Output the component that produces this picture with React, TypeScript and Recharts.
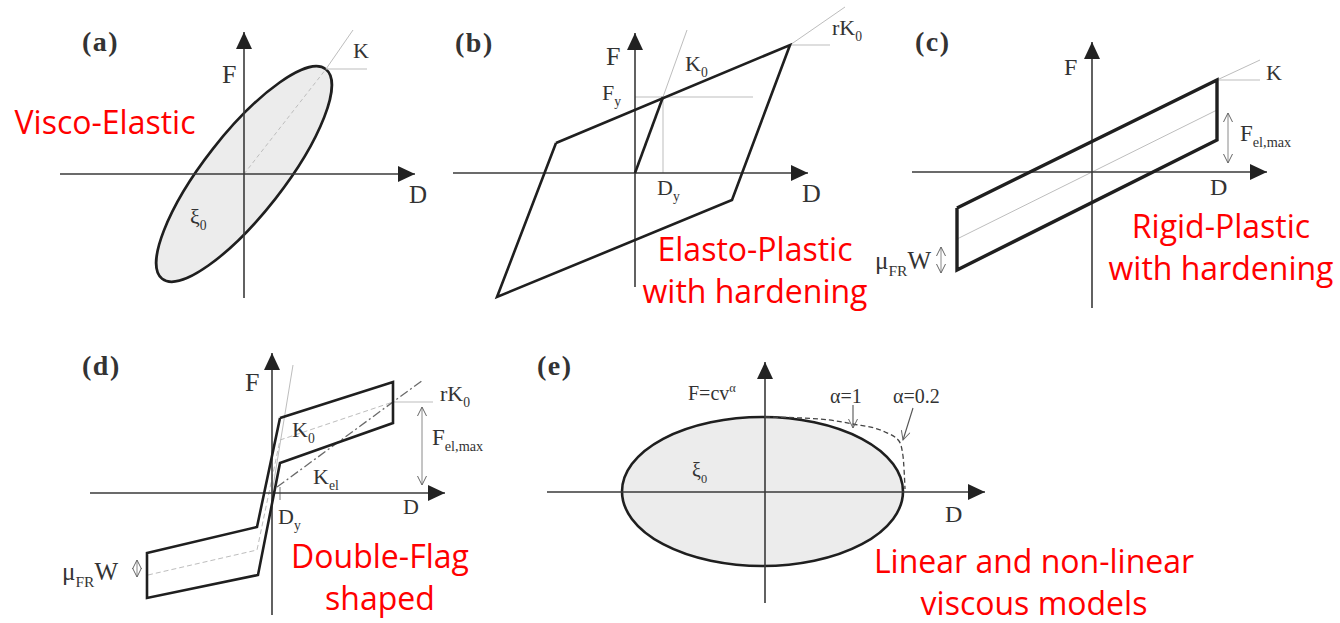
import { LineChart, Line, XAxis, YAxis, ReferenceArea } from "recharts";
import type { ReactNode } from "react";

type Pt = { x: number; y: number };

// (a) visco-elastic loop, D/F in arbitrary units
const aAxisD: Pt[] = [{ x: -18.4, y: 0 }, { x: 17.1, y: 0 }];
const aAxisF: Pt[] = [{ x: 0, y: -12.4 }, { x: 0, y: 14.2 }];
const aLoop = { a: 13.3, b: 4.0, tilt: 52 };
const aStiffInside: Pt[] = [{ x: 0, y: 0 }, { x: 8.2, y: 10.5 }];
const aStiffOutside: Pt[] = [{ x: 8.2, y: 10.5 }, { x: 10.9, y: 14.4 }];
const aPeakLevel: Pt[] = [{ x: 8.2, y: 10.5 }, { x: 12.3, y: 10.5 }];

// (b) elasto-plastic with hardening
const bAxisD: Pt[] = [{ x: -18.2, y: 0 }, { x: 17.3, y: 0 }];
const bAxisF: Pt[] = [{ x: 0, y: -11.4 }, { x: 0, y: 14.0 }];
const bLoop: Pt[] = [
  { x: -7.9, y: 3.0 },
  { x: 15.5, y: 12.8 },
  { x: 9.7, y: -2.7 },
  { x: -13.8, y: -12.4 },
  { x: -7.9, y: 3.0 },
];
const bInitial: Pt[] = [{ x: 0, y: 0 }, { x: 2.8, y: 7.6 }];
const bK0Guide: Pt[] = [{ x: 2.8, y: 7.6 }, { x: 5.2, y: 14.3 }];
const bFyGuide: Pt[] = [{ x: 0, y: 7.6 }, { x: 11.8, y: 7.6 }];
const bDyGuide: Pt[] = [{ x: 2.8, y: 7.6 }, { x: 2.8, y: 0 }];
const bRK0Guide: Pt[] = [{ x: 15.5, y: 12.8 }, { x: 21.0, y: 16.6 }];
const bRK0Level: Pt[] = [{ x: 15.5, y: 12.8 }, { x: 19.5, y: 12.8 }];

// (c) rigid-plastic with hardening
const cAxisD: Pt[] = [{ x: -18.0, y: 0 }, { x: 17.5, y: 0 }];
const cAxisF: Pt[] = [{ x: 0, y: -13.6 }, { x: 0, y: 13.0 }];
const cLoop: Pt[] = [
  { x: -13.5, y: -3.6 },
  { x: 12.5, y: 9.2 },
  { x: 12.5, y: 3.2 },
  { x: -13.5, y: -9.8 },
  { x: -13.5, y: -3.6 },
];
const cCenter: Pt[] = [{ x: -13.5, y: -6.7 }, { x: 12.5, y: 6.2 }];
const cKGuide: Pt[] = [{ x: 12.5, y: 9.2 }, { x: 16.8, y: 11.2 }];
const cKLevel: Pt[] = [{ x: 12.5, y: 9.2 }, { x: 16.8, y: 9.2 }];
const cFelSpan: Pt[] = [{ x: 13.6, y: 5.9 }, { x: 13.6, y: 0.9 }];
const cMuSpan: Pt[] = [{ x: -15.1, y: -7.5 }, { x: -15.1, y: -10.1 }];

// (d) double-flag
const dAxisD: Pt[] = [{ x: -18.2, y: 0 }, { x: 17.3, y: 0 }];
const dAxisF: Pt[] = [{ x: 0, y: -12.2 }, { x: 0, y: 14.0 }];
const dFlag: Pt[] = [
  { x: 0.8, y: 7.5 },
  { x: 12.1, y: 11.1 },
  { x: 12.1, y: 7.0 },
  { x: 0.8, y: 3.0 },
  { x: -1.4, y: -8.2 },
  { x: -12.5, y: -10.5 },
  { x: -12.5, y: -6.0 },
  { x: -1.5, y: -3.4 },
  { x: 0.8, y: 7.5 },
];
const dCenter: Pt[] = [
  { x: -12.4, y: -8.2 },
  { x: -1.5, y: -5.7 },
  { x: 0.8, y: 5.3 },
  { x: 12.1, y: 9.1 },
];
const dKel: Pt[] = [{ x: 0.5, y: 0.6 }, { x: 15.1, y: 11.3 }];
const dK0Guide: Pt[] = [{ x: 0, y: 0 }, { x: 2.1, y: 12.8 }];
const dRK0Level: Pt[] = [{ x: 12.1, y: 9.1 }, { x: 16.1, y: 9.1 }];
const dFelSpan: Pt[] = [{ x: 15.0, y: 8.6 }, { x: 15.0, y: 0.8 }];
const dMuSpan: Pt[] = [{ x: -13.5, y: -6.7 }, { x: -13.5, y: -8.4 }];
const dDyTick: Pt[] = [{ x: 0.8, y: 0.6 }, { x: 0.8, y: -0.7 }];

// (e) linear / non-linear viscous
const eAxisD: Pt[] = [{ x: -21.8, y: 0 }, { x: 22.0, y: 0 }];
const eAxisF: Pt[] = [{ x: 0, y: -11.1 }, { x: 0, y: 13.0 }];
const eLinear = { x1: -14.3, x2: 13.8, y1: -7.4, y2: 7.5 };
const eNonLinear: Pt[] = [
  { x: 0, y: 7.5 },
  { x: 5.5, y: 7.3 },
  { x: 8.8, y: 6.8 },
  { x: 12.0, y: 6.0 },
  { x: 13.4, y: 5.1 },
  { x: 13.8, y: 3.6 },
  { x: 13.92, y: 2.0 },
  { x: 14.0, y: 0.3 },
];
const eAlpha1Pointer: Pt[] = [{ x: 8.8, y: 8.7 }, { x: 8.8, y: 6.4 }];
const eAlpha02Pointer: Pt[] = [{ x: 14.8, y: 8.4 }, { x: 13.8, y: 5.2 }];

const INK = "#1f1f1f";
const AXIS = "#3a3a3a";
const GUIDE = "#bdbdbd";
const FILL = "#ececec";
const SERIF = "'Liberation Serif', 'DejaVu Serif', serif";
const RED_FONT = "'Open Sans', sans-serif";

const mainStyle = { stroke: INK, strokeWidth: 2.6 };
const axisStyle = { stroke: AXIS, strokeWidth: 1.6, markerEnd: "url(#axisHead)" };
const guideStyle = { stroke: GUIDE, strokeWidth: 1 };
const spanStyle = {
  stroke: "#8a8a8a",
  strokeWidth: 1,
  markerStart: "url(#openHead)",
  markerEnd: "url(#openHead)",
};
const pointerStyle = { stroke: "#555", strokeWidth: 1.1, markerEnd: "url(#openHead)" };

function seg(key: string, data: Pt[], style: Record<string, unknown>, type: any = "linear") {
  return (
    <Line
      key={key}
      data={data}
      dataKey="y"
      type={type}
      dot={false}
      activeDot={false}
      isAnimationActive={false}
      strokeLinejoin="miter"
      {...style}
    />
  );
}

function ellipseShape(tilt: number) {
  return (p: any) => {
    const cx = p.x + p.width / 2;
    const cy = p.y + p.height / 2;
    return (
      <ellipse
        cx={cx}
        cy={cy}
        rx={Math.abs(p.width) / 2}
        ry={Math.abs(p.height) / 2}
        fill={FILL}
        stroke={INK}
        strokeWidth={2.6}
        transform={`rotate(${-tilt} ${cx} ${cy})`}
      />
    );
  };
}

function Panel(props: {
  left: number;
  top: number;
  width: number;
  height: number;
  xDomain: [number, number];
  yDomain: [number, number];
  children: ReactNode;
}) {
  return (
    <div style={{ position: "absolute", left: props.left, top: props.top }}>
      <LineChart
        width={props.width}
        height={props.height}
        margin={{ top: 0, right: 0, bottom: 0, left: 0 }}
      >
        <XAxis type="number" dataKey="x" domain={props.xDomain} hide allowDataOverflow />
        <YAxis type="number" domain={props.yDomain} hide allowDataOverflow />
        {props.children}
      </LineChart>
    </div>
  );
}

function Sym(props: {
  x: number;
  y: number;
  size?: number;
  main: string;
  sub?: string;
  sup?: string;
  tail?: string;
  anchor?: "start" | "end";
}) {
  const s = props.size ?? 22;
  const shift = s * 0.28;
  return (
    <text x={props.x} y={props.y} fontSize={s} textAnchor={props.anchor ?? "start"}>
      {props.main}
      {props.sub && (
        <tspan dy={shift} fontSize={s * 0.62}>
          {props.sub}
        </tspan>
      )}
      {props.sup && (
        <tspan dy={-s * 0.4} fontSize={s * 0.62}>
          {props.sup}
        </tspan>
      )}
      {props.tail && <tspan dy={props.sub ? -shift : 0}>{props.tail}</tspan>}
    </text>
  );
}

function RedNote(props: { x: number; y: number; lines: string[] }) {
  return (
    <text
      x={props.x}
      y={props.y}
      fontFamily={RED_FONT}
      fontSize={32}
      fill="#ff0000"
      textAnchor="middle"
    >
      {props.lines.map((l, i) => (
        <tspan key={l} x={props.x} dy={i === 0 ? 0 : 42}>
          {l}
        </tspan>
      ))}
    </text>
  );
}

export default function App() {
  const letter = { fontSize: 28, fontWeight: "bold" as const, letterSpacing: 1.5 };
  return (
    <div
      style={{
        position: "absolute",
        left: 0,
        top: 0,
        width: 1340,
        height: 623,
        background: "#fff",
        overflow: "hidden",
      }}
    >
      <Panel left={44} top={24} width={380} height={290} xDomain={[-20, 18]} yDomain={[-14, 15]}>
        <ReferenceArea
          x1={-aLoop.a}
          x2={aLoop.a}
          y1={-aLoop.b}
          y2={aLoop.b}
          shape={ellipseShape(aLoop.tilt)}
        />
        {seg("aK1", aStiffInside, { ...guideStyle, strokeDasharray: "4 3" })}
        {seg("aK2", aStiffOutside, guideStyle)}
        {seg("aK3", aPeakLevel, guideStyle)}
        {seg("aD", aAxisD, axisStyle)}
        {seg("aF", aAxisF, axisStyle)}
      </Panel>

      <Panel left={445} top={3} width={420} height={300} xDomain={[-19, 23]} yDomain={[-13, 17]}>
        {seg("bK0", bK0Guide, guideStyle)}
        {seg("bFy", bFyGuide, guideStyle)}
        {seg("bDy", bDyGuide, guideStyle)}
        {seg("bRK", bRK0Guide, guideStyle)}
        {seg("bRL", bRK0Level, guideStyle)}
        {seg("bD", bAxisD, axisStyle)}
        {seg("bF", bAxisF, axisStyle)}
        {seg("bLoop", bLoop, mainStyle)}
        {seg("bIni", bInitial, mainStyle)}
      </Panel>

      <Panel left={902} top={32} width={380} height={290} xDomain={[-19, 19]} yDomain={[-15, 14]}>
        {seg("cC", cCenter, guideStyle)}
        {seg("cK", cKGuide, guideStyle)}
        {seg("cKL", cKLevel, guideStyle)}
        {seg("cD", cAxisD, axisStyle)}
        {seg("cF", cAxisF, axisStyle)}
        {seg("cLoop", cLoop, { stroke: INK, strokeWidth: 3.4 })}
        {seg("cFel", cFelSpan, spanStyle)}
        {seg("cMu", cMuSpan, spanStyle)}
      </Panel>

      <Panel left={82} top={343} width={400} height={280} xDomain={[-19, 21]} yDomain={[-13, 15]}>
        {seg("dK0", dK0Guide, guideStyle)}
        {seg("dRL", dRK0Level, guideStyle)}
        {seg("dC", dCenter, { ...guideStyle, strokeDasharray: "5 3" })}
        {seg("dKel", dKel, { stroke: "#6a6a6a", strokeWidth: 1.3, strokeDasharray: "9 3 2 3" })}
        {seg("dTick", dDyTick, { stroke: "#777", strokeWidth: 1 })}
        {seg("dD", dAxisD, axisStyle)}
        {seg("dF", dAxisF, axisStyle)}
        {seg("dFlag", dFlag, mainStyle)}
        {seg("dFel", dFelSpan, spanStyle)}
        {seg("dMu", dMuSpan, spanStyle)}
      </Panel>

      <Panel left={535} top={352} width={460} height={260} xDomain={[-23, 23]} yDomain={[-12, 14]}>
        <ReferenceArea
          x1={eLinear.x1}
          x2={eLinear.x2}
          y1={eLinear.y1}
          y2={eLinear.y2}
          shape={ellipseShape(0)}
        />
        {seg("eD", eAxisD, axisStyle)}
        {seg("eF", eAxisF, axisStyle)}
        {seg("eNL", eNonLinear, { stroke: "#444", strokeWidth: 1.3, strokeDasharray: "5 3" }, "monotone")}
        {seg("eP1", eAlpha1Pointer, pointerStyle)}
        {seg("eP2", eAlpha02Pointer, pointerStyle)}
      </Panel>

      <svg
        width={1340}
        height={623}
        style={{ position: "absolute", left: 0, top: 0, pointerEvents: "none" }}
      >
        <defs>
          <marker
            id="axisHead"
            markerUnits="userSpaceOnUse"
            markerWidth={18}
            markerHeight={16}
            refX={17}
            refY={8}
            orient="auto"
          >
            <path d="M0,0 L17,8 L0,16 Z" fill="#222" />
          </marker>
          <marker
            id="openHead"
            markerUnits="userSpaceOnUse"
            markerWidth={12}
            markerHeight={10}
            refX={10}
            refY={5}
            orient="auto-start-reverse"
          >
            <path d="M1,0.5 L10,5 L1,9.5" fill="none" stroke="#666" strokeWidth={1} />
          </marker>
        </defs>

        <g fontFamily={SERIF} fill="#333">
          <text x={82} y={51} {...letter}>(a)</text>
          <text x={455} y={52} {...letter}>(b)</text>
          <text x={915} y={51} {...letter}>(c)</text>
          <text x={82} y={375} {...letter}>(d)</text>
          <text x={537} y={375} {...letter}>(e)</text>

          <Sym x={222} y={83} size={26} main="F" />
          <Sym x={353} y={58} main="K" />
          <Sym x={409} y={203} size={25} main="D" />
          <Sym x={190} y={224} main="ξ" sub="0" />

          <Sym x={606} y={65} size={26} main="F" />
          <Sym x={602} y={100} main="F" sub="y" />
          <Sym x={685} y={71} main="K" sub="0" />
          <Sym x={832} y={35} main="rK" sub="0" />
          <Sym x={657} y={195} main="D" sub="y" />
          <Sym x={802} y={202} size={26} main="D" />

          <Sym x={1064} y={75} size={24} main="F" />
          <Sym x={1266} y={80} main="K" />
          <Sym x={1240} y={141} size={23} main="F" sub="el,max" />
          <Sym x={1210} y={195} size={24} main="D" />
          <Sym x={931} y={269} size={25} main="μ" sub="FR" tail="W" anchor="end" />

          <Sym x={245} y={391} size={26} main="F" />
          <Sym x={292} y={437} main="K" sub="0" />
          <Sym x={440} y={401} main="rK" sub="0" />
          <Sym x={432} y={445} size={23} main="F" sub="el,max" />
          <Sym x={313} y={484} main="K" sub="el" />
          <Sym x={403} y={514} main="D" />
          <Sym x={278} y={524} main="D" sub="y" />
          <Sym x={62} y={580} size={25} main="μ" sub="FR" tail="W" />

          <Sym x={688} y={400} size={20} main="F=cv" sup="α" />
          <Sym x={830} y={403} size={20} main="α=1" />
          <Sym x={893} y={403} size={20} main="α=0.2" />
          <Sym x={945} y={522} size={24} main="D" />
          <Sym x={692} y={477} size={20} main="ξ" sub="0" />
        </g>

        <RedNote x={105} y={134} lines={["Visco-Elastic"]} />
        <RedNote x={755} y={261} lines={["Elasto-Plastic", "with hardening"]} />
        <RedNote x={1221} y={238} lines={["Rigid-Plastic", "with hardening"]} />
        <RedNote x={380} y={568} lines={["Double-Flag", "shaped"]} />
        <RedNote x={1034} y={573} lines={["Linear and non-linear", "viscous models"]} />
      </svg>
    </div>
  );
}
